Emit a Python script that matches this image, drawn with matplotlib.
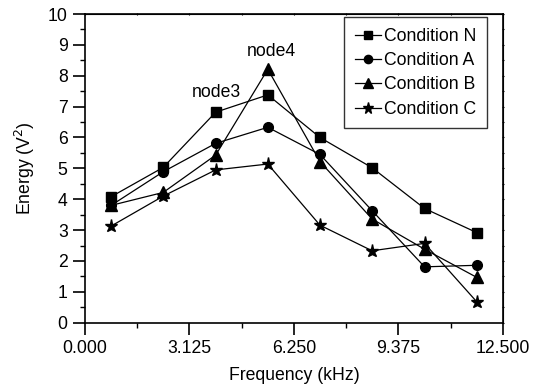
import matplotlib
matplotlib.use("Agg")
import matplotlib.pyplot as plt
from matplotlib.ticker import MultipleLocator, FixedLocator

plt.rcParams['font.family'] = ['Liberation Sans', 'DejaVu Sans']

freq = [0.78, 2.34, 3.91, 5.47, 7.03, 8.59, 10.16, 11.72]
cond_n = [4.08, 5.03, 6.82, 7.38, 6.00, 5.02, 3.70, 2.92]
cond_a = [3.80, 4.89, 5.81, 6.33, 5.45, 3.63, 1.81, 1.86]
cond_b = [3.80, 4.22, 5.43, 8.21, 5.22, 3.36, 2.38, 1.47]
cond_c = [3.13, 4.10, 4.95, 5.14, 3.16, 2.33, 2.57, 0.68]
series_labels = ["Condition N", "Condition A", "Condition B", "Condition C"]
xtick_vals = [0.0, 3.125, 6.25, 9.375, 12.5]
xtick_labels = ["0.000", "3.125", "6.250", "9.375", "12.500"]

FS = 12.7

fig = plt.figure(figsize=(5.36, 3.89), dpi=100)
ax = fig.add_axes([0.1586, 0.1704, 0.7794, 0.7936])

styles = [('s', 6.5), ('o', 7), ('^', 8.5), ('*', 9.5)]
for vals, lab, (m, ms) in zip([cond_n, cond_a, cond_b, cond_c], series_labels, styles):
    ax.plot(freq, vals, color='black', lw=0.9, marker=m, ms=ms, label=lab)

ax.set_xlim(0, 12.5)
ax.set_ylim(0, 10)
ax.xaxis.set_major_locator(FixedLocator(xtick_vals))
ax.set_xticklabels(xtick_labels)
ax.xaxis.set_minor_locator(MultipleLocator(1.5625))
ax.yaxis.set_major_locator(MultipleLocator(1))
ax.yaxis.set_minor_locator(MultipleLocator(0.5))

ax.tick_params(which='major', direction='out', length=8.5, width=1.2, labelsize=FS,
               top=False, right=False, pad=4)
ax.tick_params(which='minor', direction='out', length=3.5, width=1.0, top=False, right=False)
for s in ax.spines.values():
    s.set_linewidth(1.2)

# tiny ticks on top and right
axt = ax.secondary_xaxis('top')
axt.xaxis.set_major_locator(FixedLocator(xtick_vals))
axt.xaxis.set_minor_locator(MultipleLocator(1.5625))
axt.tick_params(which='both', direction='inout', length=2, width=0.8, labeltop=False)
axr = ax.secondary_yaxis('right')
axr.yaxis.set_major_locator(MultipleLocator(1))
axr.yaxis.set_minor_locator(MultipleLocator(0.5))
axr.tick_params(which='both', direction='inout', length=2, width=0.8, labelright=False)

ax.set_xlabel("Frequency (kHz)", fontsize=FS, labelpad=7)
ax.set_ylabel("Energy (V$^2$)", fontsize=FS, labelpad=8)

ax.text(3.93, 7.47, "node3", fontsize=FS, ha='center', va='center')
ax.text(5.57, 8.77, "node4", fontsize=FS, ha='center', va='center')

leg = ax.legend(loc='upper right', bbox_to_anchor=(0.9624, 0.990), borderaxespad=0,
                fontsize=FS, frameon=True, fancybox=False, edgecolor='black',
                handlelength=1.45, handletextpad=0.2, labelspacing=0.42,
                borderpad=0.6, markerscale=0.85)
leg.get_frame().set_linewidth(1.0)

fig.savefig("out.png", dpi=100)
